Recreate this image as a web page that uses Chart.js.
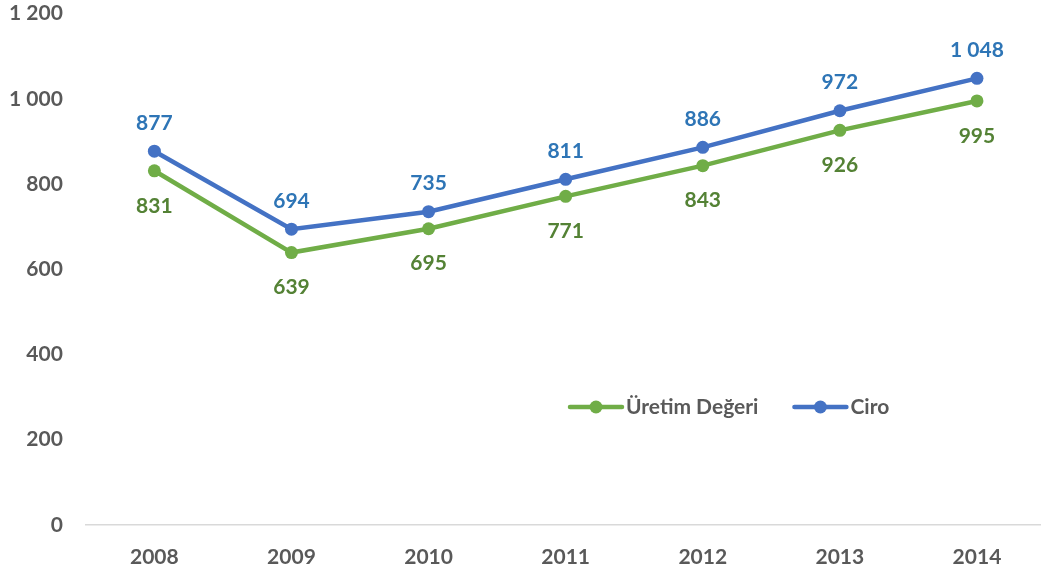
<!DOCTYPE html>
<html>
<head>
<meta charset="utf-8">
<script src="https://cdn.jsdelivr.net/npm/chart.js@4"></script>
<style>
  html, body { margin: 0; padding: 0; background: #fff; overflow: hidden; }
  #wrap { width: 1041px; height: 569px; overflow: hidden; position: relative; }
  #myChart { position: absolute; left: 4px; top: -14px; }
</style>
</head>
<body>
<div id="wrap"><canvas id="myChart" width="1048" height="583"></canvas></div>
<script>
var years = ['2008', '2009', '2010', '2011', '2012', '2013', '2014'];
var uretimDegeri = [831, 639, 695, 771, 843, 926, 995];
var ciro = [877, 694, 735, 811, 886, 972, 1048];
var seriesNames = ['Üretim Değeri', 'Ciro'];

Chart.defaults.font.family = 'Lato, "Open Sans", sans-serif';
Chart.defaults.font.weight = 'bold';
Chart.defaults.font.size = 21;
Chart.defaults.color = '#595959';

function spaced(v) {
    return String(v).replace(/\B(?=(\d{3})+(?!\d))/g, ' ');
}

// value labels (blue above, green below)
var valueLabels = {
    id: 'valueLabels',
    afterDatasetsDraw: function (chart) {
        var ctx = chart.ctx;
        ctx.save();
        ctx.font = 'bold 21px Lato, "Open Sans", sans-serif';
        ctx.textAlign = 'center';
        ctx.textBaseline = 'middle';
        chart.data.datasets.forEach(function (ds, i) {
            var meta = chart.getDatasetMeta(i);
            meta.data.forEach(function (pt, j) {
                ctx.fillStyle = ds.labelColor;
                ctx.fillText(spaced(ds.data[j]), pt.x, pt.y + ds.labelOffset);
            });
        });
        ctx.restore();
    }
};

// legend drawn inside the plot
var innerLegend = {
    id: 'innerLegend',
    afterDraw: function (chart) {
        var ctx = chart.ctx;
        var x = 566, y = 421;
        ctx.save();
        ctx.font = 'bold 21px Lato, "Open Sans", sans-serif';
        ctx.textBaseline = 'middle';
        ctx.textAlign = 'left';
        chart.data.datasets.forEach(function (ds) {
            ctx.strokeStyle = ds.borderColor;
            ctx.lineWidth = 4.5;
            ctx.lineCap = 'round';
            ctx.beginPath();
            ctx.moveTo(x, y);
            ctx.lineTo(x + 52, y);
            ctx.stroke();
            ctx.fillStyle = ds.borderColor;
            ctx.beginPath();
            ctx.arc(x + 26, y, 6.5, 0, Math.PI * 2);
            ctx.fill();
            ctx.fillStyle = '#595959';
            ctx.fillText(ds.label, x + 56, y);
            x += 56 + ctx.measureText(ds.label).width + 36;
        });
        ctx.restore();
    }
};

var ctx = document.getElementById('myChart');
var myChart = new Chart(ctx, {
    type: 'line',
    data: {
        labels: years,
        datasets: [{
            label: seriesNames[0],
            data: uretimDegeri,
            borderColor: '#70AD47',
            backgroundColor: '#70AD47',
            borderWidth: 4.5,
            pointRadius: 6.5,
            pointHoverRadius: 6.5,
            pointBorderWidth: 0,
            tension: 0,
            labelColor: '#548235',
            labelOffset: 35
        }, {
            label: seriesNames[1],
            data: ciro,
            borderColor: '#4472C4',
            backgroundColor: '#4472C4',
            borderWidth: 4.5,
            pointRadius: 6.5,
            pointHoverRadius: 6.5,
            pointBorderWidth: 0,
            tension: 0,
            labelColor: '#2E75B6',
            labelOffset: -28
        }]
    },
    plugins: [valueLabels, innerLegend],
    options: {
        responsive: false,
        animation: false,
        layout: {
            padding: { left: -10, right: 0, top: -22, bottom: -13 }
        },
        plugins: {
            legend: { display: false },
            tooltip: { enabled: false }
        },
        scales: {
            x: {
                offset: true,
                grid: { display: false },
                border: { display: true, color: '#d9d9d9', width: 1.5 },
                ticks: { padding: 12, color: '#595959' }
            },
            y: {
                min: 0,
                max: 1200,
                grid: { display: false },
                border: { display: false },
                ticks: {
                    stepSize: 200,
                    padding: 15,
                    color: '#595959',
                    callback: function (v) { return spaced(v); }
                }
            }
        }
    }
});
</script>
</body>
</html>
